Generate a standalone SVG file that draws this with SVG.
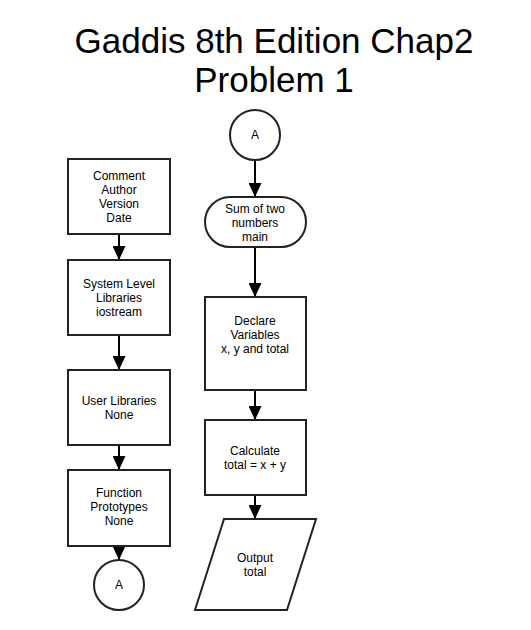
<svg xmlns="http://www.w3.org/2000/svg" width="531" height="630" viewBox="0 0 531 630">
<style>
.shape{fill:#fff;stroke:#222;stroke-width:2}
.t{font-family:"Liberation Sans",Arial,sans-serif;font-size:12px;fill:#000;text-anchor:middle}
.title{font-family:"Liberation Sans",Arial,sans-serif;font-size:35px;fill:#000;text-anchor:middle}
.conn{stroke:#000;stroke-width:2;fill:none}
</style>
<defs>
<marker id="arrow" viewBox="0 0 14 13" markerWidth="14" markerHeight="13" refX="14" refY="6.5" orient="auto" markerUnits="userSpaceOnUse">
<path d="M0,0 L14,6.5 L0,13 z" fill="#000"/>
</marker>
</defs>
<rect width="531" height="630" fill="#fff"/>
<g id="title">
<text class="title" x="274" y="53">Gaddis 8th Edition Chap2</text>
<text class="title" x="274" y="92">Problem 1</text>
</g>
<g id="connectors">
<line class="conn" x1="119" y1="234" x2="119" y2="260" marker-end="url(#arrow)"/>
<line class="conn" x1="119" y1="335" x2="119" y2="370" marker-end="url(#arrow)"/>
<line class="conn" x1="119" y1="445" x2="119" y2="470" marker-end="url(#arrow)"/>
<line class="conn" x1="119" y1="546" x2="119" y2="560" marker-end="url(#arrow)"/>
<line class="conn" x1="255" y1="160" x2="255" y2="197" marker-end="url(#arrow)"/>
<line class="conn" x1="255" y1="247" x2="255" y2="297" marker-end="url(#arrow)"/>
<line class="conn" x1="255" y1="390" x2="255" y2="420" marker-end="url(#arrow)"/>
<line class="conn" x1="255" y1="495" x2="255" y2="519" marker-end="url(#arrow)"/>
</g>
<g id="comment">
<rect class="shape" x="68" y="159" width="102" height="75"/>
<text class="t" x="119" y="180">Comment</text>
<text class="t" x="119" y="194">Author</text>
<text class="t" x="119" y="208">Version</text>
<text class="t" x="119" y="222">Date</text>
</g>
<g id="syslibs">
<rect class="shape" x="68" y="260" width="102" height="75"/>
<text class="t" x="119" y="288">System Level</text>
<text class="t" x="119" y="302">Libraries</text>
<text class="t" x="119" y="316">iostream</text>
</g>
<g id="userlibs">
<rect class="shape" x="68" y="370" width="102" height="75"/>
<text class="t" x="119" y="405">User Libraries</text>
<text class="t" x="119" y="419">None</text>
</g>
<g id="prototypes">
<rect class="shape" x="68" y="470" width="102" height="76"/>
<text class="t" x="119" y="497">Function</text>
<text class="t" x="119" y="511">Prototypes</text>
<text class="t" x="119" y="525">None</text>
</g>
<g id="connectorA1">
<circle class="shape" cx="119" cy="585" r="25"/>
<text class="t" x="119" y="589">A</text>
</g>
<g id="connectorA2">
<circle class="shape" cx="255" cy="135" r="25"/>
<text class="t" x="255" y="139">A</text>
</g>
<g id="main">
<rect class="shape" x="205" y="197" width="101" height="50" rx="25" ry="25"/>
<text class="t" x="255" y="213">Sum of two</text>
<text class="t" x="255" y="227">numbers</text>
<text class="t" x="255" y="241">main</text>
</g>
<g id="declare">
<rect class="shape" x="205" y="297" width="101" height="93"/>
<text class="t" x="255" y="325">Declare</text>
<text class="t" x="255" y="339">Variables</text>
<text class="t" x="255" y="353">x, y and total</text>
</g>
<g id="calculate">
<rect class="shape" x="205" y="420" width="101" height="75"/>
<text class="t" x="255" y="455">Calculate</text>
<text class="t" x="255" y="469">total = x + y</text>
</g>
<g id="output">
<polygon class="shape" points="224,519 316,519 287,610 195,610"/>
<text class="t" x="255" y="562">Output</text>
<text class="t" x="255" y="576">total</text>
</g>
</svg>
